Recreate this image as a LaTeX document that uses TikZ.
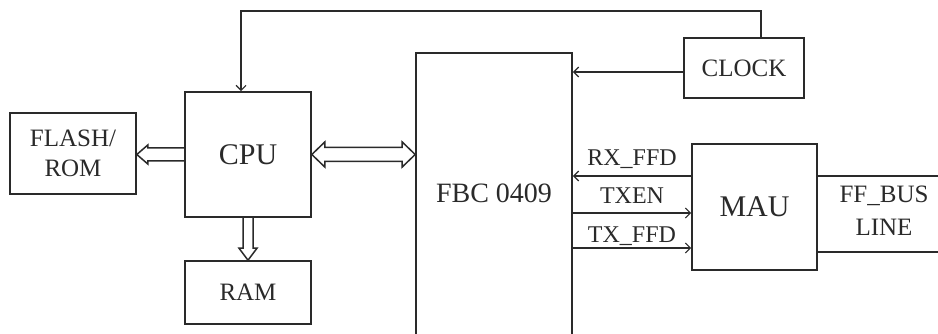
\documentclass[tikz,border=0pt]{standalone}
\usepackage{fontspec}
\setmainfont{Liberation Serif}
\usetikzlibrary{arrows.meta,calc,backgrounds}
\definecolor{ink}{HTML}{2A2A2A}
\begin{document}
\begin{tikzpicture}[x=1pt,y=-1pt,
  box/.style={draw=ink,line width=1.6pt,inner sep=0pt,text=ink},
  big/.style={font=\fontsize{30}{30}\selectfont},
  mid/.style={font=\fontsize{25}{30}\selectfont},
  lbl/.style={font=\fontsize{24}{30}\selectfont,text=ink},
  sig/.style={draw=ink,line width=1.5pt},
  tip/.style={-{Straight Barb[length=5pt,width=10pt,line width=1.2pt]}},
  hollow/.style={draw=ink,line width=1.5pt,fill=white,line join=miter}]
\useasboundingbox (0,0) rectangle (938,334);

% boxes
\node[box,mid,align=center,minimum width=126pt,minimum height=81pt] (flash) at (73,153.5) {FLASH/\\ROM};
\node[box,big,minimum width=126pt,minimum height=125pt] (cpu) at (248,154.5) {CPU};
\node[box,mid,minimum width=126pt,minimum height=63pt] (ram) at (248,292.5) {RAM};
\node[box,minimum width=156pt,minimum height=300pt,
      label={[font=\fontsize{28}{30}\selectfont,text=ink,yshift=10pt]center:FBC 0409}] (fbc) at (494,203) {};
\node[box,mid,minimum width=120pt,minimum height=60pt] (clock) at (744,68) {CLOCK};
\node[box,big,minimum width=125pt,minimum height=126pt] (mau) at (754.5,207) {MAU};

% hollow bus arrows
\begin{scope}[on background layer]
\fill[white] (0,0) rectangle (938,334);
\path[hollow] let \p1=(cpu.west), \p2=(flash.east) in
  (\x1,\y1+6.5pt) -- (\x2+11pt,\y1+6.5pt) -- (\x2+11pt,\y1+9.5pt) -- (\x2,\y1)
  -- (\x2+11pt,\y1-9.5pt) -- (\x2+11pt,\y1-6.5pt) -- (\x1,\y1-6.5pt);
\path[hollow] let \p1=(cpu.east), \p2=(fbc.west) in
  (\x1,\y1) -- (\x1+13pt,\y1+12.5pt) -- (\x1+13pt,\y1+7pt) -- (\x2-13pt,\y1+7pt)
  -- (\x2-13pt,\y1+12.5pt) -- (\x2,\y1) -- (\x2-13pt,\y1-12.5pt) -- (\x2-13pt,\y1-7pt)
  -- (\x1+13pt,\y1-7pt) -- (\x1+13pt,\y1-12.5pt) -- cycle;
\path[hollow] let \p1=(cpu.south), \p2=(ram.north) in
  (\x1-5pt,\y1) -- (\x1-5pt,\y2+12pt) -- (\x1-9pt,\y2+12pt) -- (\x1,\y2)
  -- (\x1+9pt,\y2+12pt) -- (\x1+5pt,\y2+12pt) -- (\x1+5pt,\y1);
\end{scope}

% clock lines
\draw[sig,tip] ([xshift=17pt]clock.north) -- ++(0,-26) -| ([xshift=-7pt]cpu.north);
\coordinate (ck) at ([yshift=-4pt]clock.west);
\draw[sig,tip] (ck) -- (ck -| fbc.east);

% FBC <-> MAU signals
\coordinate (rx) at ([yshift=31pt]mau.west);
\coordinate (te) at ([yshift=-6pt]mau.west);
\coordinate (tx) at ([yshift=-41pt]mau.west);
\draw[sig,tip] (rx) -- node[lbl,anchor=base,yshift=10pt]{RX\_FFD} (rx -| fbc.east);
\draw[sig,tip] (te -| fbc.east) -- node[lbl,anchor=base,yshift=9pt]{TXEN} (te);
\draw[sig,tip] (tx -| fbc.east) -- node[lbl,anchor=base,yshift=5pt]{TX\_FFD} (tx);

% bus lines
\coordinate (ba) at ([yshift=31pt]mau.east);
\coordinate (bb) at ([yshift=-45pt]mau.east);
\coordinate (baEnd) at (945,176);
\coordinate (bbEnd) at (945,252);
\draw[sig] (ba) -- (baEnd);
\draw[sig] (bb) -- (bbEnd);
\node[lbl,align=center,font=\fontsize{25}{33}\selectfont] (bus) at (884,211) {FF\_BUS\\LINE};
\end{tikzpicture}
\end{document}
